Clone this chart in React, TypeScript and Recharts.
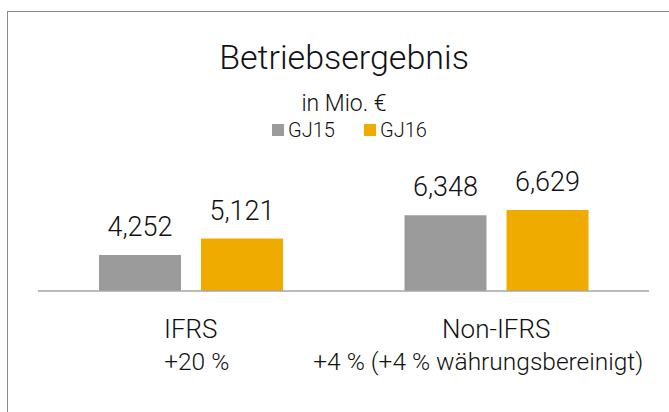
import React from 'react';
import { BarChart, Bar, XAxis, YAxis, LabelList } from 'recharts';

const categories = ['IFRS', 'Non-IFRS'];
const changeNotes = ['+20 %', '+4 % (+4 % währungsbereinigt)'];
const gj15 = [4252, 6348];
const gj16 = [5121, 6629];
const seriesNames = ['GJ15', 'GJ16'];
const yDomain = [2350, 8000];

const GRAY = '#9b9b9b';
const GOLD = '#f0ab00';
const FONT = 'Roboto, "Liberation Sans", sans-serif';
// small horizontal nudge for the note lines under each category
const noteShift = [6, -18];

const data = categories.map((name, i) => ({ name, gj15: gj15[i], gj16: gj16[i] }));

// 4252 -> "4,252"
const fmt = (v: any) => String(v).replace(/\B(?=(\d{3})+(?!\d))/g, ',');

const CategoryTick = (props: any) => {
  const { x, y, payload, index } = props;
  return (
    <g>
      <text x={x} y={y + 47} textAnchor="middle" fontSize={26} fontWeight={300} fill="#111" fontFamily={FONT}>
        {payload.value}
      </text>
      <text x={x + noteShift[index]} y={y + 79} textAnchor="middle" fontSize={24.5} fontWeight={300} fill="#111" fontFamily={FONT}>
        {changeNotes[index]}
      </text>
    </g>
  );
};

const App = () => {
  return (
    <div style={{ position: 'absolute', left: 0, top: 0, width: 669, height: 412, overflow: 'hidden', background: '#fff', fontFamily: FONT }}>
      <div style={{ position: 'absolute', left: 7, top: 11, width: 800, height: 600, border: '1.5px solid #8a8a8a' }} />

      <svg width={669} height={150} style={{ position: 'absolute', left: 0, top: 0 }}>
        <text x={344} y={69} textAnchor="middle" fontSize={34} fontWeight={300} fill="#111" fontFamily={FONT}>
          Betriebsergebnis
        </text>
        <text x={344} y={111} textAnchor="middle" fontSize={23} fontWeight={300} fill="#111" fontFamily={FONT}>
          in Mio. €
        </text>
        {seriesNames.map((s, i) => (
          <g key={s}>
            <rect x={272 + i * 92} y={124} width={12} height={12} fill={i === 0 ? GRAY : GOLD} />
            <text x={288 + i * 92} y={137} fontSize={20} fontWeight={300} fill="#111" fontFamily={FONT}>
              {s}
            </text>
          </g>
        ))}
      </svg>

      <div style={{ position: 'absolute', left: 0, top: 0 }}>
        <BarChart
          width={669}
          height={412}
          data={data}
          margin={{ top: 184, right: 20, bottom: 0, left: 38 }}
          barSize={82}
          barGap={20}
        >
          <XAxis
            dataKey="name"
            height={121}
            tickLine={false}
            tickSize={0}
            tickMargin={0}
            axisLine={{ stroke: '#a6a6a6', strokeWidth: 1.5 }}
            tick={<CategoryTick />}
            interval={0}
          />
          <YAxis hide domain={yDomain} allowDataOverflow />
          <Bar dataKey="gj15" name={seriesNames[0]} fill={GRAY} isAnimationActive={false}>
            <LabelList dataKey="gj15" position="top" offset={19} formatter={fmt} fontSize={27} fontWeight={300} fill="#111" fontFamily={FONT} />
          </Bar>
          <Bar dataKey="gj16" name={seriesNames[1]} fill={GOLD} isAnimationActive={false}>
            <LabelList dataKey="gj16" position="top" offset={19} formatter={fmt} fontSize={27} fontWeight={300} fill="#111" fontFamily={FONT} />
          </Bar>
        </BarChart>
      </div>
    </div>
  );
};

export default App;
